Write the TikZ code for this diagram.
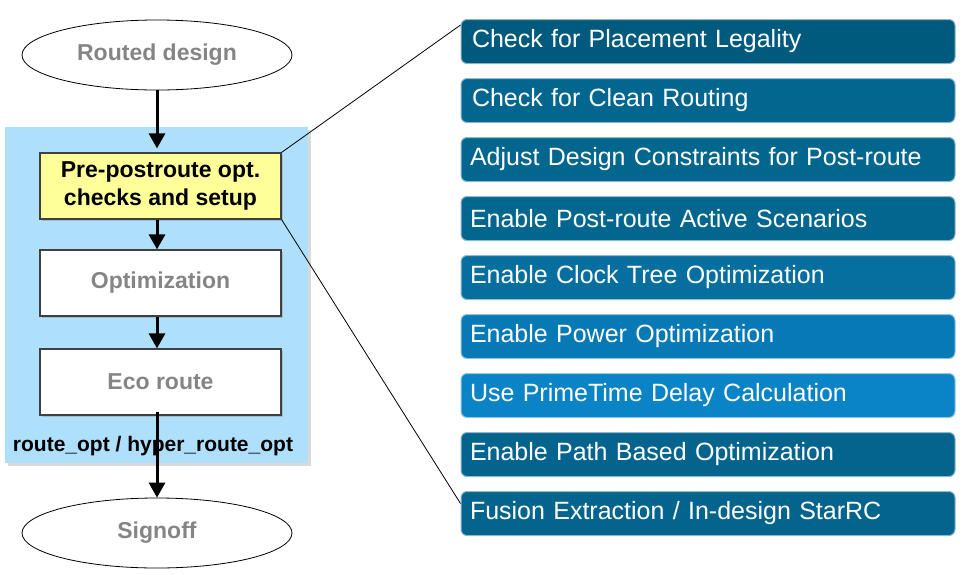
\documentclass[tikz,border=0pt]{standalone}
\usepackage{fontspec}
\setmainfont{Liberation Sans}
\usetikzlibrary{arrows.meta,shapes.geometric,shadows}

\definecolor{regionblue}{HTML}{AEDFFB}
\definecolor{setupyellow}{HTML}{FFFF99}
\definecolor{stepgrey}{HTML}{858585}
\definecolor{tealA}{HTML}{005A7D}
\definecolor{tealB}{HTML}{03668F}
\definecolor{tealC}{HTML}{066FA0}
\definecolor{tealD}{HTML}{0779B5}
\definecolor{tealE}{HTML}{0A84C6}
\definecolor{tealF}{HTML}{04648E}

\tikzset{
  terminal/.style={ellipse, draw=black, line width=0.8pt, fill=white, inner sep=0pt,
    minimum width=270pt, minimum height=70pt, text=stepgrey,
    font=\fontsize{23}{27}\selectfont\bfseries},
  stage/.style={rectangle, draw=black!75, line width=1.2pt, fill=white, inner sep=0pt,
    minimum width=241pt, minimum height=66pt, text=stepgrey,
    font=\fontsize{23}{27}\selectfont\bfseries,
    drop shadow={shadow xshift=2pt, shadow yshift=-2pt, opacity=0.35}},
  task/.style={rectangle, rounded corners=6pt, draw=white!55!#1, line width=1pt, fill=#1,
    text=white, text width=476pt, inner xsep=9pt, minimum height=44pt, align=left,
    font=\fontsize{25}{30}\selectfont},
  flow/.style={line width=3pt, -{Triangle[length=15pt,width=16pt]}},
}

\begin{document}
\begin{tikzpicture}[x=1pt,y=-1pt]
  \useasboundingbox (0,0) rectangle (967,574);

  \node[rectangle, fill=regionblue, inner sep=0pt, minimum width=303pt, minimum height=336pt,
    drop shadow={shadow xshift=3pt, shadow yshift=-3pt, opacity=0.3}] (region) at (156.5,295) {};

  \node[terminal] (routed) at (157,55) {Routed design};
  \node[stage, fill=setupyellow, text=black, align=center] (setup) at (160.5,186)
    {Pre-postroute opt.\\[1pt]checks and setup};
  \node[stage] (optim) at (160.5,283) {Optimization};
  \node[stage] (eco) at (160.5,382) {Eco route};
  \node[font=\fontsize{21}{25}\selectfont\bfseries] (cmd) at (153,446) {route\_opt / hyper\_route\_opt};
  \node[terminal] (signoff) at (157,533) {Signoff};

  \draw[flow] (routed) -- ([yshift=4]routed |- setup.north);
  \draw[flow] (routed |- setup.south) -- (routed |- optim.north);
  \draw[flow] (routed |- optim.south) -- (routed |- eco.north);
  \draw[flow] ([yshift=4]routed |- eco.south) -- (signoff);

  \matrix[row sep={59pt,between origins}] at (708,277.5)
  {
    \node[task=tealA] (legal) {\hspace{2pt}Check for Placement Legality}; \\
    \node[task=tealB] (clean) {\hspace{2pt}Check for Clean Routing}; \\
    \node[task=tealB] (constr) {Adjust Design Constraints for Post-route}; \\
    \node[task=tealB] (scen) {Enable Post-route Active Scenarios}; \\
    \node[task=tealC] (cto) {Enable Clock Tree Optimization}; \\
    \node[task=tealD] (power) {Enable Power Optimization}; \\
    \node[task=tealE] (ptdelay) {Use PrimeTime Delay Calculation}; \\
    \node[task=tealF] (pbo) {Enable Path Based Optimization}; \\
    \node[task=tealF] (extr) {Fusion Extraction / In-design StarRC}; \\
  };

  \draw[line width=0.8pt] (setup.north east) -- ([yshift=-6]legal.north west);
  \draw[line width=0.8pt] (setup.south east) -- ([yshift=10]extr.west);
\end{tikzpicture}
\end{document}
